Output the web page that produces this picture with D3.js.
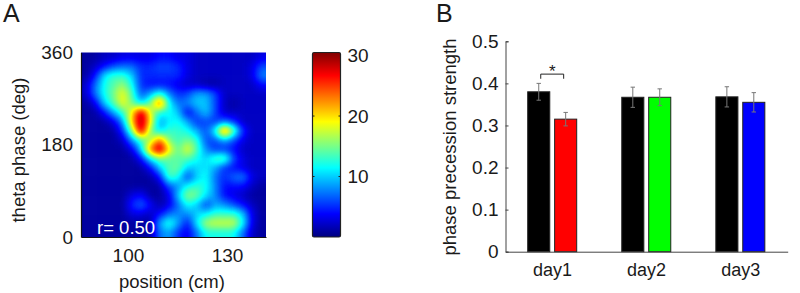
<!DOCTYPE html>
<html>
<head>
<meta charset="utf-8">
<script src="https://cdn.jsdelivr.net/npm/d3@7"></script>
<style>
  body { margin: 0; background: #fff; }
  text { font-family: "Liberation Sans", Arial, sans-serif; fill: #1a1a1a; }
</style>
</head>
<body>
<div id="chart"></div>
<script>
// firing rate, top row first (20 x 20 cells)
var rateGrid = [
  [1,1,2,2,3,3,3,3,4,4,3,3,2,2,2,2,2,2,2,3],
  [1,2,4,6,7,7,5,5,6,6,5,3,2,2,2,2,2,2,3,6],
  [1,4,11,13,13,10,5,5,5,5,5,3,2,2,2,2,2,2,3,8],
  [2,7,12,14,16,12,5,4,4,4,3,2,2,1,1,2,2,2,2,4],
  [2,7,12,15,19,14,6,9,13,8,5,6,9,9,6,2,2,2,2,2],
  [1,3,10,14,19,15,10,15,26,12,7,8,10,10,6,2,1,2,2,2],
  [1,1,4,9,13,19,30,18,12,12,10,3,7,10,6,2,2,2,2,2],
  [1,1,1,3,8,21,36,20,8,11,12,9,5,6,5,7,5,2,2,2],
  [1,1,1,1,5,15,30,15,10,13,13,12,9,6,12,26,15,5,2,2],
  [1,1,1,1,2,8,13,16,24,15,13,15,13,6,6,9,6,3,2,2],
  [1,1,1,1,1,3,10,24,37,20,14,19,14,8,5,5,4,2,2,2],
  [1,1,1,1,1,1,4,11,15,14,14,14,12,10,14,15,6,3,2,2],
  [1,1,1,1,1,1,1,4,10,14,15,10,10,11,9,5,4,3,2,2],
  [1,1,1,1,1,1,1,1,4,14,12,5,10,12,7,5,7,8,3,2],
  [1,1,1,1,1,1,1,1,1,6,8,12,13,12,8,4,4,4,2,1],
  [1,1,1,1,1,3,4,1,1,3,10,16,15,11,8,4,3,2,1,1],
  [1,1,1,1,1,5,7,4,1,3,7,12,10,5,9,8,6,4,2,1],
  [1,1,1,1,1,3,3,2,4,7,8,8,10,11,13,13,13,10,3,1],
  [1,1,1,1,1,1,1,1,9,13,9,4,11,17,18,18,18,12,3,1],
  [1,1,1,1,1,1,1,1,7,9,5,3,7,12,12,12,12,7,2,1]
];
var phaseTicks = [0, 180, 360];
var positionTicks = [100, 130];
var colorTicks = [10, 20, 30];

var days = ["day1", "day2", "day3"];
var groups = ["first", "second"];
var firstValues = [0.38, 0.367, 0.368];
var secondValues = [0.315, 0.367, 0.355];
var firstErrors = [0.02, 0.024, 0.024];
var secondErrors = [0.016, 0.02, 0.023];
var secondColors = ["#ff0000", "#00ff00", "#0000ff"];
var strengthTicks = [0, 0.1, 0.2, 0.3, 0.4, 0.5];

var svg = d3.select("#chart").append("svg")
  .attr("width", 800)
  .attr("height", 293)
  .style("display", "block");

// jet colormap
function jet(t) {
  var f = function(c) { return Math.max(0, Math.min(1, 1.5 - Math.abs(4 * t - c))); };
  return [f(3), f(2), f(1)];
}

// ---- panel A ----
var map = {left: 81, right: 266, top: 52.5, bottom: 237};
var rateMax = 30.5;

var col = d3.scaleBand().domain(d3.range(20)).range([map.left, map.right]);
var row = d3.scaleBand().domain(d3.range(20)).range([map.top, map.bottom]);
var gray = d3.scaleLinear().domain([0, rateMax]).range([0, 255]).clamp(true);

var defs = svg.append("defs");
defs.append("clipPath").attr("id", "mapClip").append("rect")
  .attr("x", map.left).attr("y", map.top)
  .attr("width", map.right - map.left).attr("height", map.bottom - map.top);

// blur the rates as gray levels, then turn the gray levels into jet colours
var filter = defs.append("filter").attr("id", "smooth")
  .attr("filterUnits", "userSpaceOnUse")
  .attr("x", 40).attr("y", 10).attr("width", 270).attr("height", 270)
  .attr("color-interpolation-filters", "sRGB");
filter.append("feGaussianBlur").attr("stdDeviation", 4.2).attr("result", "b");
var transfer = filter.append("feComponentTransfer");
var steps = d3.range(0, 1.0001, 1 / 128).map(jet);
["R", "G", "B"].forEach(function(ch, i) {
  transfer.append("feFunc" + ch).attr("type", "table")
    .attr("tableValues", steps.map(function(s) { return s[i].toFixed(3); }).join(" "));
});

var cells = [];
rateGrid.forEach(function(r, i) {
  r.forEach(function(v, j) { cells.push({i: i, j: j, v: v}); });
});

var overhang = 25; // edge cells run past the clip so the blur does not fade out
svg.append("g").attr("clip-path", "url(#mapClip)")
  .append("g").attr("filter", "url(#smooth)")
  .selectAll("rect")
  .data(cells)
  .enter()
  .append("rect")
    .attr("x", function(d) { return col(d.j) - (d.j == 0 ? overhang : 0); })
    .attr("y", function(d) { return row(d.i) - (d.i == 0 ? overhang : 0); })
    .attr("width", function(d) { return col.bandwidth() + 0.5 + (d.j == 0 || d.j == 19 ? overhang : 0); })
    .attr("height", function(d) { return row.bandwidth() + 0.5 + (d.i == 0 || d.i == 19 ? overhang : 0); })
    .attr("fill", function(d) { var g = Math.round(gray(d.v)); return "rgb(" + g + "," + g + "," + g + ")"; });

var xPos = d3.scaleLinear().domain([85.8, 141.8]).range([map.left, map.right]);
var yPhase = d3.scaleLinear().domain([0, 360]).range([map.bottom, map.top]);

var axA = svg.append("g").attr("transform", "translate(" + map.left + ",0)")
  .call(d3.axisLeft(yPhase).tickValues(phaseTicks).tickSize(0).tickPadding(8));
var axB = svg.append("g").attr("transform", "translate(0," + map.bottom + ")")
  .call(d3.axisBottom(xPos).tickValues(positionTicks).tickSize(0).tickPadding(12));
[axA, axB].forEach(function(a) {
  a.selectAll("text").style("font-size", "19px").attr("fill", "#1a1a1a");
  a.select(".domain").attr("stroke", "#111").attr("stroke-width", 1.2);
});

svg.append("text").attr("x", 97).attr("y", 234).style("font-size", "18.5px").style("fill", "#fff").text("r= 0.50");
svg.append("text").attr("x", 172).attr("y", 288).attr("text-anchor", "middle").style("font-size", "18.5px").text("position (cm)");
svg.append("text").attr("transform", "translate(25,150) rotate(-90)").attr("text-anchor", "middle").style("font-size", "18.5px").text("theta phase (deg)");
svg.append("text").attr("x", 3).attr("y", 22).style("font-size", "25px").text("A");

// colour bar
var bar = {left: 312.5, right: 340.5, top: 52.5, bottom: 237};
var yRate = d3.scaleLinear().domain([0, rateMax]).range([bar.bottom, bar.top]);
var grad = defs.append("linearGradient").attr("id", "jetBar")
  .attr("x1", 0).attr("y1", 1).attr("x2", 0).attr("y2", 0);
steps.forEach(function(s, i) {
  grad.append("stop").attr("offset", i / (steps.length - 1))
    .attr("stop-color", d3.rgb(s[0] * 255, s[1] * 255, s[2] * 255).formatHex());
});
svg.append("rect")
  .attr("x", bar.left).attr("y", bar.top)
  .attr("width", bar.right - bar.left).attr("height", bar.bottom - bar.top)
  .attr("rx", 1.5)
  .attr("fill", "url(#jetBar)").attr("stroke", "#222").attr("stroke-width", 1.2);
var axC = svg.append("g").attr("transform", "translate(" + bar.right + ",0)")
  .call(d3.axisRight(yRate).tickValues(colorTicks).tickSize(0).tickPadding(7));
axC.select(".domain").remove();
axC.selectAll("text").style("font-size", "19px");
svg.selectAll(".colorTick").data(colorTicks.slice(0, 2)).enter().append("path")
  .attr("d", function(d) {
    var y = yRate(d);
    return "M" + bar.left + "," + y + "h2M" + bar.right + "," + y + "h-2";
  })
  .attr("stroke", "#222");

// ---- panel B ----
var plot = {left: 505.5, right: 787.7, top: 41.3, bottom: 251.7};

var x0 = d3.scaleBand().domain(days).range([plot.left, plot.right]);
var x1 = d3.scaleBand().domain(groups).range([22.2, 71.2]).paddingInner(0.18);
var y = d3.scaleLinear().domain([0, 0.5]).range([plot.bottom, plot.top]);

var rows = [];
days.forEach(function(day, i) {
  rows.push({day: day, group: "first", value: firstValues[i], err: firstErrors[i], color: "#000000"});
  rows.push({day: day, group: "second", value: secondValues[i], err: secondErrors[i], color: secondColors[i]});
});

svg.selectAll(".bar")
  .data(rows)
  .enter()
  .append("rect")
    .attr("class", "bar")
    .attr("x", function(d) { return x0(d.day) + x1(d.group); })
    .attr("y", function(d) { return y(d.value); })
    .attr("width", x1.bandwidth())
    .attr("height", function(d) { return plot.bottom - y(d.value); })
    .attr("fill", function(d) { return d.color; })
    .attr("stroke", "#222")
    .attr("stroke-width", 1);

var cap = 2.2;
svg.selectAll(".err")
  .data(rows)
  .enter()
  .append("path")
    .attr("class", "err")
    .attr("d", function(d) {
      var cx = x0(d.day) + x1(d.group) + x1.bandwidth() / 2;
      var hi = y(d.value + d.err), lo = y(d.value - d.err);
      return "M" + cx + "," + hi + "V" + lo +
        "M" + (cx - cap) + "," + hi + "h" + (2 * cap) +
        "M" + (cx - cap) + "," + lo + "h" + (2 * cap);
    })
    .attr("fill", "none")
    .attr("stroke", "#777")
    .attr("stroke-width", 1);

var axL = svg.append("g").attr("transform", "translate(" + plot.left + ",0)")
  .call(d3.axisLeft(y).tickValues(strengthTicks).tickFormat(function(d) { return d === 0 ? "0" : d3.format(".1f")(d); })
    .tickSizeInner(-3).tickSizeOuter(-3).tickPadding(7));
axL.selectAll("text").style("font-size", "19px");
var axX = svg.append("g").attr("transform", "translate(0," + plot.bottom + ")")
  .call(d3.axisBottom(x0).tickSize(0).tickPadding(12));
axX.selectAll("text").style("font-size", "18px");
[axL, axX].forEach(function(a) {
  a.selectAll("path,line").attr("stroke", "#444").attr("stroke-width", 1);
});

// significance bracket over day1
var bx1 = x0("day1") + x1("first") + x1.bandwidth() / 2;
var bx2 = x0("day1") + x1("second") + x1.bandwidth() / 2;
svg.append("path")
  .attr("d", "M" + (bx1 + 2) + "," + y(0.411) + "V" + y(0.422) + "H" + (bx2 - 2) + "V" + y(0.411))
  .attr("fill", "none").attr("stroke", "#222").attr("stroke-width", 1);
svg.append("text").attr("x", (bx1 + bx2) / 2).attr("y", 77).attr("text-anchor", "middle").style("font-size", "17px").text("*");

svg.append("text").attr("transform", "translate(456,147) rotate(-90)").attr("text-anchor", "middle").style("font-size", "18.5px").text("phase precession strength");
svg.append("text").attr("x", 436).attr("y", 22).style("font-size", "25px").text("B");
</script>
</body>
</html>
